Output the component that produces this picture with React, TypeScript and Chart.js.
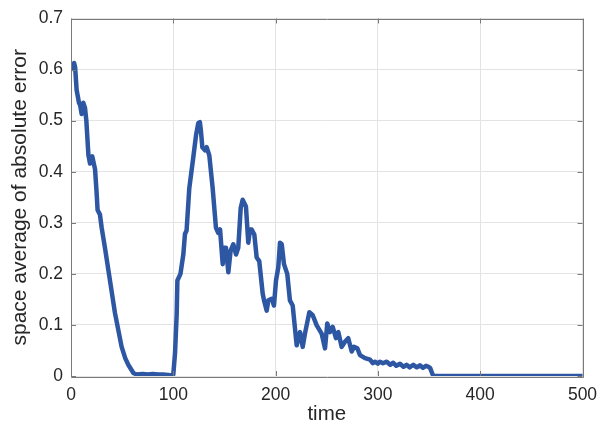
import React, { useEffect, useRef } from "react";
import { Chart, registerables } from "chart.js";

Chart.register(...registerables);

const timeValues: number[] = [
  0, 2, 3, 4, 5.5, 7.8, 9, 10.4, 12, 13.7, 15, 17, 18.6, 20.8, 23.5, 25, 26, 28.3, 30, 33.2,
  38.1, 43, 49.5, 53, 56, 61, 64, 70, 75, 80, 85, 90, 95, 98.5, 100, 101.7, 103.3, 104, 107, 109.8,
  111.4, 113, 115.6, 119.6, 122.2, 124.4, 126, 127, 128.4, 131, 132.6, 135.2, 138.5, 141.7, 144, 145.7, 148.3, 149.6, 151.5, 153.8,
  156, 158.7, 161.3, 163.5, 165.9, 167.8, 171, 173.3, 175, 176.6, 179.2, 181.5, 184, 187.4, 188.7, 191.3, 192.9, 196.2, 198.4, 200.4,
  202.6, 204.3, 206, 208.2, 211.4, 214, 216.7, 220.6, 223.9, 226.5, 228.7, 233, 236.3, 240.2, 245, 248.3, 250.5, 253.2, 255.8, 259,
  261.3, 264.6, 267.8, 271, 274.4, 276.6, 279.9, 282.5, 287.4, 292.3, 295, 297.2, 300, 302, 305, 308.6, 312, 315, 318, 321.6,
  325, 328, 331, 334.6, 338, 341, 344, 347, 349.3, 351, 353.5, 355, 400, 450, 500,
];

const errorValues: number[] = [
  0.6, 0.603, 0.613, 0.605, 0.56, 0.535, 0.53, 0.513, 0.535, 0.525, 0.5, 0.433, 0.416, 0.43, 0.405, 0.36, 0.325, 0.316, 0.29, 0.251,
  0.187, 0.123, 0.057, 0.035, 0.022, 0.006, 0.003, 0.004, 0.003, 0.004, 0.003, 0.003, 0.002, 0.001, 0.003, 0.045, 0.12, 0.187, 0.2, 0.238,
  0.278, 0.285, 0.367, 0.429, 0.471, 0.495, 0.497, 0.48, 0.448, 0.442, 0.448, 0.432, 0.367, 0.29, 0.28, 0.287, 0.219, 0.251, 0.251, 0.203,
  0.245, 0.258, 0.238, 0.251, 0.329, 0.345, 0.332, 0.261, 0.287, 0.287, 0.277, 0.232, 0.225, 0.161, 0.148, 0.128, 0.148, 0.151, 0.138, 0.187,
  0.212, 0.261, 0.258, 0.219, 0.2, 0.148, 0.138, 0.06, 0.086, 0.057, 0.083, 0.125, 0.119, 0.099, 0.083, 0.054, 0.103, 0.086, 0.096, 0.074,
  0.086, 0.057, 0.067, 0.074, 0.048, 0.057, 0.054, 0.041, 0.035, 0.032, 0.025, 0.028, 0.024, 0.028, 0.025, 0.028, 0.022, 0.026, 0.02, 0.024,
  0.018, 0.022, 0.017, 0.022, 0.017, 0.021, 0.016, 0.02, 0.018, 0.016, 0.003, 0.0, 0.0, 0.0, 0.0,
];

const xTicks: number[] = [0, 100, 200, 300, 400, 500];
const yTicks: number[] = [0, 0.1, 0.2, 0.3, 0.4, 0.5, 0.6, 0.7];

const FONT = "'Liberation Sans', Arial, Helvetica, sans-serif";
const AXIS_COLOR = "#7a7a7a";
const TEXT_COLOR = "#262626";

const boxPlugin = {
  id: "boxPlugin",
  afterDatasetsDraw(chart: any) {
    const { ctx, chartArea, scales } = chart;
    const { left, right, top, bottom } = chartArea;
    ctx.save();
    ctx.strokeStyle = AXIS_COLOR;
    ctx.lineWidth = 1;
    ctx.beginPath();
    ctx.rect(Math.round(left) + 0.5, Math.round(top) + 0.5, Math.round(right - left), Math.round(bottom - top));
    ctx.stroke();
    const tl = 5;
    ctx.beginPath();
    xTicks.forEach((v) => {
      const x = Math.round(scales.x.getPixelForValue(v)) + 0.5;
      ctx.moveTo(x, bottom);
      ctx.lineTo(x, bottom - tl);
      ctx.moveTo(x, top);
      ctx.lineTo(x, top + tl);
    });
    yTicks.forEach((v) => {
      const y = Math.round(scales.y.getPixelForValue(v)) + 0.5;
      ctx.moveTo(left, y);
      ctx.lineTo(left + tl, y);
      ctx.moveTo(right, y);
      ctx.lineTo(right - tl, y);
    });
    ctx.stroke();
    ctx.restore();
  },
};

export default function App() {
  const canvasRef = useRef<HTMLCanvasElement | null>(null);

  useEffect(() => {
    document.body.style.margin = "0";
    const canvas = canvasRef.current;
    if (!canvas) return;
    const points = timeValues.map((t, i) => ({ x: t, y: errorValues[i] }));
    const chart = new Chart(canvas, {
      type: "line",
      data: {
        datasets: [
          {
            data: points,
            borderColor: "rgb(45, 86, 163)",
            borderWidth: 4.5,
            pointRadius: 0,
            tension: 0,
            fill: false,
            borderJoinStyle: "round",
            borderCapStyle: "round",
          },
        ],
      },
      options: {
        animation: false,
        responsive: false,
        maintainAspectRatio: false,
        devicePixelRatio: 1,
        layout: { padding: { left: 0, right: 32.5, top: 15, bottom: 0 } },
        plugins: { legend: { display: false }, tooltip: { enabled: false } },
        scales: {
          x: {
            type: "linear",
            min: 0,
            max: 500,
            afterFit: (s: any) => {
              s.height = 49;
            },
            afterBuildTicks: (s: any) => {
              s.ticks = xTicks.map((v) => ({ value: v }));
            },
            grid: { color: "#e3e3e3", drawTicks: false, lineWidth: 1 },
            border: { display: false },
            ticks: {
              padding: 9,
              color: TEXT_COLOR,
              font: { family: FONT, size: 17.5 },
              maxRotation: 0,
            },
            title: {
              display: true,
              text: "time",
              color: TEXT_COLOR,
              font: { family: FONT, size: 20.5, lineHeight: 1 },
              padding: { top: 0, bottom: 0 },
            },
          },
          y: {
            type: "linear",
            min: 0,
            max: 0.7,
            afterFit: (s: any) => {
              s.width = 71;
            },
            afterBuildTicks: (s: any) => {
              s.ticks = yTicks.map((v) => ({ value: v }));
            },
            grid: { color: "#e3e3e3", drawTicks: false, lineWidth: 1 },
            border: { display: false },
            ticks: {
              padding: 8,
              color: TEXT_COLOR,
              font: { family: FONT, size: 17.5 },
              callback: (v: any) => String(Math.round(Number(v) * 10) / 10),
            },
            title: {
              display: true,
              text: "space average of absolute error",
              color: TEXT_COLOR,
              font: { family: FONT, size: 21, lineHeight: 1 },
              padding: { top: 10, bottom: 0 },
            },
          },
        },
      },
      plugins: [boxPlugin],
    });
    return () => chart.destroy();
  }, []);

  return (
    <div style={{ width: 615, height: 425, position: "relative", background: "#fff" }}>
      <canvas ref={canvasRef} width={615} height={425} style={{ width: 615, height: 425, display: "block" }} />
    </div>
  );
}
